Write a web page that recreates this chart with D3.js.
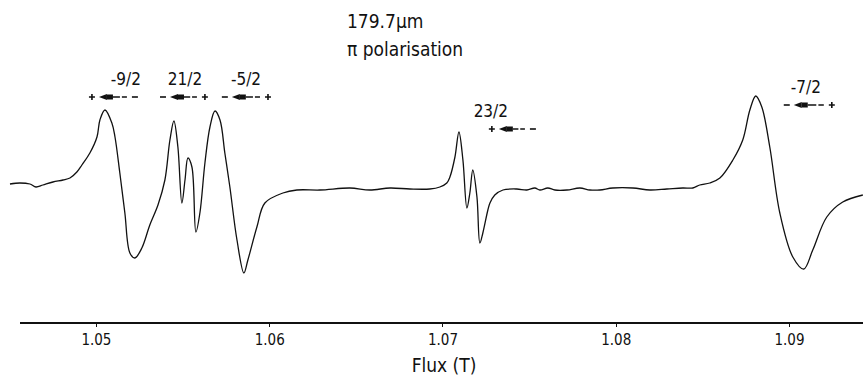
<!DOCTYPE html>
<html>
<head>
<meta charset="utf-8">
<style>
body { margin: 0; background: #fff; }
svg text { font-family: "DejaVu Sans Condensed", "DejaVu Sans", sans-serif; fill: #111; }
.axis path, .axis line { stroke: #111; shape-rendering: crispEdges; }
.axis path { stroke-width: 2px; }
</style>
</head>
<body>
<script src="https://d3js.org/d3.v7.min.js"></script>
<script>

// magnetic flux (T) of each sample of the trace
var flux = [1.04504, 1.04561, 1.04619, 1.04654, 1.04694, 1.04752, 1.04810, 1.04850, 1.04890, 1.04919,
    1.04965, 1.05006, 1.05023, 1.05052, 1.05092, 1.05110, 1.05138, 1.05167, 1.05196, 1.05225,
    1.05265, 1.05311, 1.05358, 1.05398, 1.05427, 1.05450, 1.05473, 1.05496, 1.05514, 1.05531,
    1.05554, 1.05577, 1.05600, 1.05629, 1.05658, 1.05687, 1.05716, 1.05744, 1.05773, 1.05814,
    1.05854, 1.05877, 1.05929, 1.05975, 1.06079, 1.06160, 1.06293, 1.06466, 1.06581, 1.06697,
    1.06812, 1.06927, 1.06985, 1.07025, 1.07043, 1.07072, 1.07095, 1.07118, 1.07141, 1.07158,
    1.07175, 1.07199, 1.07216, 1.07233, 1.07262, 1.07274, 1.07302, 1.07349, 1.07429, 1.07487,
    1.07533, 1.07562, 1.07608, 1.07649, 1.07718, 1.07793, 1.07851, 1.07908, 1.07983, 1.08099,
    1.08197, 1.08295, 1.08387, 1.08445, 1.08485, 1.08543, 1.08601, 1.08676, 1.08733, 1.08774,
    1.08808, 1.08843, 1.08889, 1.08947, 1.09022, 1.09085, 1.09137, 1.09218, 1.09310, 1.09426];

// detector signal, arbitrary units
var signal = [4, 5, 4, 1, 3, 6, 8, 10, 16, 23,
    35, 51, 68, 78, 65, 51, 15, -25, -65, -70,
    -60, -37, -17, 8, 48, 67, 41, -15, 8, 30,
    21, -44, -25, 25, 61, 77, 68, 35, 1, -52,
    -85, -72, -39, -15, -5, -2, -2, 0, -2, 0,
    -1, -1, 1, 5, 11, 31, 56, 28, -20, -5,
    18, -9, -55, -45, -22, -15, -7, -2, -1, -2,
    0, -2, 0, -2, -2, 0, -2, -2, 0, 0,
    -2, -1, 0, 0, 3, 5, 10, 28, 48, 78,
    92, 81, 41, -25, -69, -81, -62, -29, -14, -7];

var xTicks = [1.05, 1.06, 1.07, 1.08, 1.09];

// transition labels and the +/- markers under them
var lineLabels = ["-9/2", "21/2", "-5/2", "23/2", "-7/2"];
var labelFlux = [1.05173, 1.05514, 1.05866, 1.07279, 1.09097];
var plusFlux = [1.04977, 1.05629, 1.05993, 1.07285, 1.09247];
var minusFlux = [1.05225, 1.05387, 1.05744, 1.07522, 1.08987];
var labelLevel = [103, 103, 103, 71, 95];

var width = 863, height = 376;

var svg = d3.select("body").append("svg")
    .attr("width", width)
    .attr("height", height);

var x = d3.scaleLinear().domain([1.04556, 1.09427]).range([19, 863]);
var y = d3.scaleLinear().domain([-100, 100]).range([288, 88]);

// axis
svg.append("g")
    .attr("class", "axis")
    .attr("transform", "translate(0,322)")
    .call(d3.axisBottom(x).tickValues(xTicks).tickSize(5).tickSizeOuter(0)
        .tickFormat(function(d) { return d3.format(".2f")(d); }))
    .call(function(g) {
        g.attr("font-size", 15).attr("font-family", "DejaVu Sans Condensed, sans-serif");
        g.selectAll("text").attr("y", 12).attr("dy", "0.75em");
    });

svg.append("text")
    .attr("x", 444)
    .attr("y", 372)
    .attr("text-anchor", "middle")
    .style("font-size", "19px")
    .text("Flux (T)");

// trace
var points = flux.map(function(f, i) { return [f, signal[i]]; });
var line = d3.line()
    .x(function(d) { return x(d[0]); })
    .y(function(d) { return y(d[1]); })
    .curve(d3.curveCatmullRom.alpha(0.5));

svg.append("path")
    .datum(points)
    .attr("fill", "none")
    .attr("stroke", "#111")
    .attr("stroke-width", 1.3)
    .attr("stroke-linejoin", "round")
    .attr("d", line);

// titles
svg.append("text").attr("x", 347).attr("y", 28).style("font-size", "19px").text("179.7\u00b5m");
svg.append("text").attr("x", 347).attr("y", 56).style("font-size", "19px").text("\u03c0 polarisation");

// annotations
lineLabels.forEach(function(lab, i) {
    var ly = y(labelLevel[i]);
    var my = ly + 12;
    svg.append("text")
        .attr("x", x(labelFlux[i]))
        .attr("y", ly)
        .attr("text-anchor", "middle")
        .style("font-size", "17px")
        .text(lab);

    var xp = x(plusFlux[i]), xm = x(minusFlux[i]);
    var left = Math.min(xp, xm), right = Math.max(xp, xm);
    var g = svg.append("g").attr("stroke", "#111").attr("fill", "#111");
    // plus sign
    g.append("path").attr("stroke-width", 1.6)
        .attr("d", "M" + (xp - 3) + "," + my + "H" + (xp + 3) + "M" + xp + "," + (my - 3) + "V" + (my + 3));
    // minus sign
    g.append("path").attr("stroke-width", 1.6)
        .attr("d", "M" + (xm - 3) + "," + my + "H" + (xm + 3));
    // arrow pointing left
    var a0 = left + 7, a1 = right - 8;
    g.append("path").attr("stroke", "none")
        .attr("d", "M" + a0 + "," + my + "L" + (a0 + 8) + "," + (my - 3) + "L" + (a0 + 8) + "," + (my + 3) + "Z");
    g.append("rect").attr("stroke", "none")
        .attr("x", a0 + 8).attr("y", my - 2.5).attr("width", 6).attr("height", 5);
    g.append("path").attr("stroke-width", 1.5)
        .attr("d", "M" + (a0 + 14) + "," + my + "H" + (a0 + (a1 - a0) * 0.75));
    g.append("path").attr("stroke-width", 1.5)
        .attr("d", "M" + (a0 + (a1 - a0) * 0.82) + "," + my + "H" + a1);
});

</script>
</body>
</html>
